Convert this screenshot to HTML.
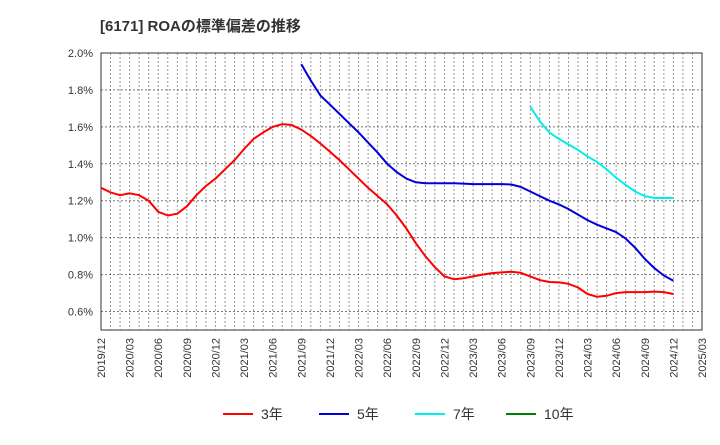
<!DOCTYPE html>
<html><head><meta charset="utf-8"><style>
body{margin:0;background:#fff;font-family:"Liberation Sans","Noto Sans CJK JP",sans-serif;}
</style></head><body>
<svg width="720" height="440" xmlns="http://www.w3.org/2000/svg" font-family="Liberation Sans, Noto Sans CJK JP, sans-serif">
<text x="100" y="31" font-size="15" font-weight="bold" fill="#333">[6171]  ROAの標準偏差の推移</text>
<g id="grid"></g>
<rect x="101" y="53" width="601" height="277" fill="none" stroke="#333" stroke-width="1"/>
<g id="series"></g>
<g id="yticks"></g>
<g id="xticks"></g>
<g id="legend"></g>
</svg>
<script>
const months = ["2019/12","2025/03"];
const yTickLabels = ["0.6%","0.8%","1.0%","1.2%","1.4%","1.6%","1.8%","2.0%"];
const yTickValues = [0.6,0.8,1.0,1.2,1.4,1.6,1.8,2.0];
const xTickLabels = ["2019/12","2020/03","2020/06","2020/09","2020/12","2021/03","2021/06","2021/09","2021/12","2022/03","2022/06","2022/09","2022/12","2023/03","2023/06","2023/09","2023/12","2024/03","2024/06","2024/09","2024/12","2025/03"];
const red3 = [1.27,1.245,1.23,1.24,1.23,1.20,1.14,1.12,1.13,1.17,1.23,1.28,1.32,1.37,1.42,1.48,1.535,1.57,1.60,1.615,1.61,1.585,1.55,1.51,1.465,1.42,1.37,1.32,1.27,1.225,1.18,1.12,1.05,0.97,0.90,0.84,0.79,0.775,0.78,0.79,0.80,0.808,0.812,0.815,0.81,0.79,0.77,0.76,0.758,0.75,0.73,0.695,0.68,0.685,0.70,0.705,0.705,0.705,0.708,0.705,0.695];
const blue5 = [1.94,1.85,1.77,1.72,1.67,1.62,1.57,1.515,1.46,1.40,1.355,1.32,1.30,1.295,1.295,1.295,1.295,1.293,1.29,1.29,1.29,1.29,1.288,1.275,1.25,1.225,1.20,1.18,1.155,1.125,1.095,1.07,1.05,1.03,0.995,0.945,0.885,0.835,0.795,0.767];
const blue5Start = 21;
const cyan7 = [1.71,1.63,1.57,1.535,1.505,1.475,1.44,1.41,1.37,1.325,1.285,1.25,1.225,1.215,1.215,1.215];
const cyan7Start = 45;
const NS="http://www.w3.org/2000/svg";
const X0=101,X1=702,Y0=330,Y1=53,NM=63,VMIN=0.5,VMAX=2.0;
const xs=i=>X0+(X1-X0)*i/NM;
const ys=v=>Y0-(Y0-Y1)*(v-VMIN)/(VMAX-VMIN);
function mk(tag,attrs,parent){const e=document.createElementNS(NS,tag);for(const k in attrs)e.setAttribute(k,attrs[k]);parent.appendChild(e);return e;}
const grid=document.getElementById('grid');
for(let i=1;i<NM;i++){const l=mk('line',{x1:xs(i),x2:xs(i),y1:Y1,y2:Y0,stroke:'#999','stroke-dasharray':'2,2','stroke-width':1},grid);

}
yTickValues.forEach(v=>{const l=mk('line',{x1:X0,x2:X1,y1:ys(v),y2:ys(v),stroke:'#777','stroke-dasharray':'2,2','stroke-width':1},grid);

});
const yt=document.getElementById('yticks');
yTickValues.forEach((v,i)=>{const t=mk('text',{x:93,y:ys(v)+4,'font-size':11,'text-anchor':'end',fill:'#333'},yt);t.textContent=yTickLabels[i];

});
const xt=document.getElementById('xticks');
xTickLabels.forEach((s,i)=>{const x=xs(i*3)+4;const t=mk('text',{x:x,y:338,'font-size':11,'text-anchor':'end',fill:'#333',transform:`rotate(-90 ${x} 338)`},xt);t.textContent=s;

});
const sg=document.getElementById('series');
function line(data,start,color,name){const pts=data.map((v,i)=>xs(start+i).toFixed(1)+','+ys(v).toFixed(1)).join(' ');
const p=mk('polyline',{points:pts,fill:'none',stroke:color,'stroke-width':2,'stroke-linejoin':'round'},sg);

}
line(red3,0,'#ff0000','series-3yr');
line(blue5,blue5Start,'#0000dd','series-5yr');
line(cyan7,cyan7Start,'#00eeee','series-7yr');
const lg=document.getElementById('legend');
[["3年","#ff0000",223],["5年","#0000dd",319],["7年","#00eeee",415],["10年","#008000",506]].forEach(([s,c,x])=>{
const g=mk('g',{},lg);


mk('line',{x1:x,x2:x+30,y1:414,y2:414,stroke:c,'stroke-width':2},g);
const t=mk('text',{x:x+38,y:419,'font-size':14,fill:'#333'},g);t.textContent=s;});
</script>
</body></html>
